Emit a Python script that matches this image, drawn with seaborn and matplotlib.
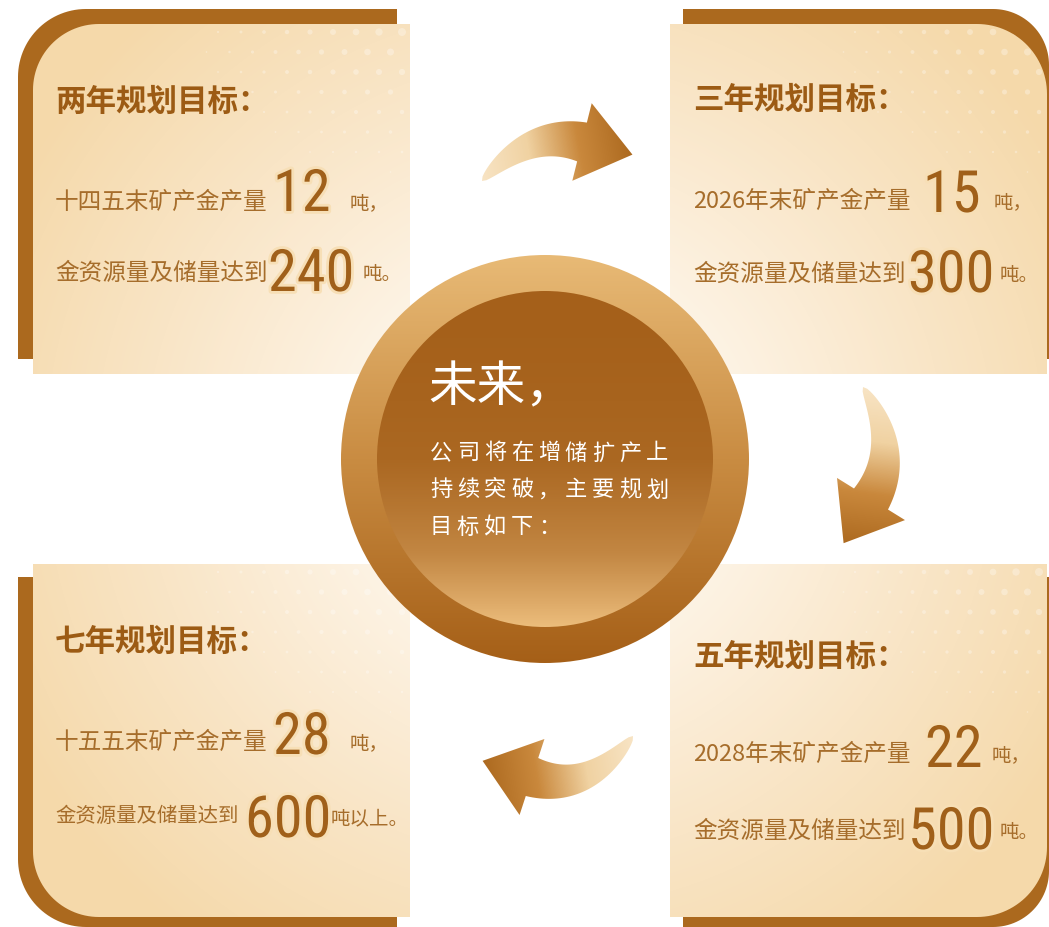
import numpy as np
import matplotlib.pyplot as plt
import seaborn as sns
from matplotlib.patches import Circle, Polygon
from matplotlib import patheffects as pe
from matplotlib import font_manager
from matplotlib.font_manager import FontProperties

# ---- content ----
titles = ['两年规划目标：', '三年规划目标：', '五年规划目标：', '七年规划目标：']
prod_labels = ['十四五末矿产金产量', '2026年末矿产金产量', '2028年末矿产金产量', '十五五末矿产金产量']
prod_tons = ['12', '15', '22', '28']
reserve_label = '金资源量及储量达到'
reserve_tons = ['240', '300', '500', '600']
prod_units = ['吨，', '吨，', '吨，', '吨，']
reserve_units = ['吨。', '吨。', '吨。', '吨以上。']
center_head = '未来，'
center_lines = ['公司将在增储扩产上', '持续突破，主要规划', '目标如下：']

W, H = 1049, 928
BROWN = '#ab691e'
TITLE_C = '#9c5b14'
BODY_C = '#a66d2b'
NUM_C = '#a0601a'

sns.set_theme(style='white')
CJK = ['Noto Sans CJK SC', 'DejaVu Sans']
plt.rcParams['font.family'] = CJK


def pick_narrow_font():
    fonts = font_manager.fontManager.ttflist
    wanted = ['Liberation Sans Narrow', 'Roboto Condensed', 'Open Sans Condensed',
              'DejaVu Sans Condensed', 'Noto Sans Condensed']
    for w in wanted:
        for f in fonts:
            if f.name == w and f.style == 'normal' and f.weight in (400, 'normal', 'regular'):
                return FontProperties(fname=f.fname), True
    for f in fonts:
        st = str(f.stretch)
        if f.style == 'normal' and ('condensed' in st or 'Condensed' in f.fname or 'Narrow' in f.fname) \
                and 'Bold' not in f.fname and 'Oblique' not in f.fname and 'Italic' not in f.fname:
            return FontProperties(fname=f.fname), True
    return FontProperties(family='Roboto'), False


NUM_FP, NARROW = pick_narrow_font()
NUM_SIZE = (42, 42) if NARROW else (37, 38)

fig = plt.figure(figsize=(W / 100, H / 100), dpi=100)
ax = fig.add_axes([0, 0, 1, 1])
ax.set_xlim(0, W)
ax.set_ylim(H, 0)
ax.axis('off')

yy, xx = np.mgrid[0:H, 0:W] + 0.5


def corner_poly(x0, y0, x1, y1, r, corner, n=30):
    specs = [('tl', (x0 + r, y0 + r), 180, 270, (x0, y0)),
             ('tr', (x1 - r, y0 + r), 270, 360, (x1, y0)),
             ('br', (x1 - r, y1 - r), 0, 90, (x1, y1)),
             ('bl', (x0 + r, y1 - r), 90, 180, (x0, y1))]
    pts = []
    for name, c, a0, a1, p in specs:
        if name == corner:
            a = np.radians(np.linspace(a0, a1, n))
            pts += list(zip(c[0] + r * np.cos(a), c[1] + r * np.sin(a)))
        else:
            pts.append(p)
    return np.array(pts)


def grad_fill(field, cmap, patch, z):
    ax.add_patch(patch)
    im = ax.imshow(field, extent=(0, W, H, 0), cmap=cmap, vmin=0, vmax=1,
                   interpolation='bilinear', zorder=z, aspect='auto')
    im.set_clip_path(patch)


# ---- panels ----
panel_cmap = sns.blend_palette(['#fdf3e4', '#f9e5c6', '#f5d9aa'], as_cmap=True)
panels = [  # brown box, its radius, cream box, its radius, rounded corner
    ((18, 10, 397, 360), 68, (33, 25, 410, 375), 66, 'tl'),
    ((683, 10, 1049, 360), 56, (670, 25, 1047, 375), 70, 'tr'),
    ((683, 578, 1049, 928), 56, (670, 565, 1047, 918), 70, 'br'),
    ((18, 578, 397, 928), 68, (33, 565, 410, 918), 66, 'bl'),
]
cx, cy = 545, 460
dist = np.hypot(xx - cx, yy - cy)
pfield = np.clip((dist - 200) / 400, 0, 1)
for bbox, rb, cbox, rc, corner in panels:
    ax.add_patch(Polygon(corner_poly(*bbox, rb, corner), closed=True,
                         facecolor=BROWN, edgecolor='none', zorder=1))
    cream = Polygon(corner_poly(*cbox, rc, corner), closed=True,
                    facecolor='none', edgecolor='none', zorder=2)
    grad_fill(pfield, panel_cmap, cream, 2)
    # faint white dot texture near the top-right corner
    x1, y0 = cbox[2], cbox[1]
    gx, gy = np.meshgrid(np.arange(0, 260, 23.0), np.arange(0, 170, 20.0))
    gx = gx + (np.arange(gy.shape[0])[:, None] % 2) * 11.5
    px, py = (x1 - 8 - gx).ravel(), (y0 + 8 + gy).ravel()
    d = np.hypot(px - x1, (py - y0) * 1.4)
    rad = 4.2 * (1 - d / 260)
    keep = rad > 0.8
    dots = ax.scatter(px[keep], py[keep], s=(2 * rad[keep] * 0.72) ** 2,
                      color='white', alpha=0.3, linewidths=0, zorder=3)
    dots.set_clip_path(cream)

# ---- arrows ----
arrow_cmap = sns.blend_palette(['#f8e4c4', '#f0d2a2', '#c9883c', '#ad6a20'], as_cmap=True)


def arrow_poly(p0, p1, p2, neck_w, head_w, head_len, n=40):
    p0, p1, p2 = map(np.asarray, (p0, p1, p2))
    t = np.linspace(0, 1, n)[:, None]
    P = (1 - t) ** 2 * p0 + 2 * (1 - t) * t * p1 + t ** 2 * p2
    D = 2 * (1 - t) * (p1 - p0) + 2 * t * (p2 - p1)
    D = D / np.linalg.norm(D, axis=1)[:, None]
    N = np.column_stack([-D[:, 1], D[:, 0]])
    w = neck_w / 2 * t ** 0.55
    left, right = P + N * w, P - N * w
    tip = p2 + D[-1] * head_len
    pts = np.vstack([left, p2 + N[-1] * head_w / 2, tip,
                     p2 - N[-1] * head_w / 2, right[::-1]])
    return pts, p0, tip


arrows = [((482, 182), (530, 130), (582, 143)),
          ((863, 388), (902, 450), (871, 500)),
          ((633, 737), (587, 796), (532, 778))]
for p0, p1, p2 in arrows:
    pts, tail, tip = arrow_poly(p0, p1, p2, 40, 80, 52)
    v = tip - tail
    proj = ((xx - tail[0]) * v[0] + (yy - tail[1]) * v[1]) / (v @ v)
    patch = Polygon(pts, closed=True, facecolor='none', edgecolor='none', zorder=4)
    grad_fill(np.clip(proj, 0, 1), arrow_cmap, patch, 4)

# ---- central medallion ----
ring_cmap = sns.blend_palette(['#e8ba76', '#c98c42', '#a55f17'], as_cmap=True)
disk_cmap = sns.blend_palette(['#a5601a', '#ab6822', '#c28642', '#ecbd7c'], as_cmap=True)
vfield = np.clip((yy - (cy - 205)) / 410, 0, 1)
grad_fill(vfield, ring_cmap, Circle((cx, cy), 204, facecolor='none', edgecolor='none'), 5)
dfield = np.clip((yy - (cy - 168)) / 336, 0, 1) ** 1.6
grad_fill(dfield, disk_cmap, Circle((cx, cy), 168, facecolor='none', edgecolor='none'), 6)

ax.text(428, 388, center_head, color='white', fontsize=35, va='center', ha='left', zorder=7)
for row, line in enumerate(center_lines):
    for i, ch in enumerate(line):
        ax.text(441 + i * 27, 453 + row * 37, ch, color='white', fontsize=16,
                va='center', ha='center', zorder=7)

# ---- panel text ----
layout = [  # text x, title y, line1 y, num1 x, num1 base, unit1 x, line2 y, num2 x, num2 base, unit2 x, line2 size
    (55, 102, 202, 273, 212, 350, 273, 268, 292, 363, 17),
    (693, 100, 201, 923, 213, 994, 274, 908, 293, 1000, 17),
    (693, 657, 754, 925, 768, 992, 831, 908, 850, 1000, 17),
    (55, 642, 742, 273, 755, 350, 817, 245, 838, 331, 14.7),
]
glow = [pe.withStroke(linewidth=4, foreground='#f7dfb6')]
for k, (tx, ty, l1, n1x, n1b, u1x, l2, n2x, n2b, u2x, fs2) in enumerate(layout):
    ax.text(tx, ty, titles[k], color=TITLE_C, fontsize=22, fontweight='bold',
            va='center', ha='left', zorder=7)
    ax.text(tx, l1, prod_labels[k], color=BODY_C, fontsize=17, va='center', zorder=7)
    ax.text(n1x, n1b, prod_tons[k], color=NUM_C, fontproperties=NUM_FP, fontsize=NUM_SIZE[0],
            va='baseline', ha='left', zorder=7, path_effects=glow)
    ax.text(u1x, l1 + 2, prod_units[k], color=BODY_C, fontsize=14, va='center', zorder=7)
    ax.text(tx, l2, reserve_label, color=BODY_C, fontsize=fs2, va='center', zorder=7)
    ax.text(n2x, n2b, reserve_tons[k], color=NUM_C, fontproperties=NUM_FP, fontsize=NUM_SIZE[1],
            va='baseline', ha='left', zorder=7, path_effects=glow)
    ax.text(u2x, l2 + 2, reserve_units[k], color=BODY_C, fontsize=14, va='center', zorder=7)

fig.savefig('out.png', dpi=100, facecolor='white')
